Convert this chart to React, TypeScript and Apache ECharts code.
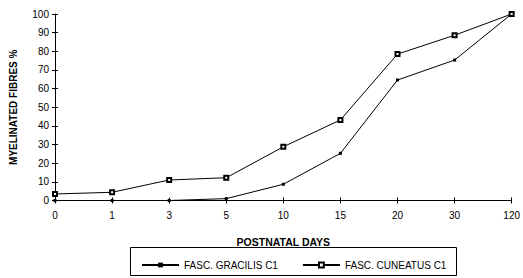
import React, { useEffect, useRef } from "react";
import * as echarts from "echarts";

const days = ["0", "1", "3", "5", "10", "15", "20", "30", "120"];
const gracilis = [0, 0, 0, 1, 8.7, 25.3, 64.6, 75.3, 100];
const cuneatus = [3.5, 4.4, 11, 12.2, 28.8, 43.2, 78.5, 88.6, 100];
const yTicks = [0, 10, 20, 30, 40, 50, 60, 70, 80, 90, 100];

const FONT = "'Liberation Sans', Arial, sans-serif";

export default function App() {
  const ref = useRef<HTMLDivElement>(null);
  useEffect(() => {
    if (!ref.current) return;
    const chart = echarts.init(ref.current, undefined, { renderer: "svg" });
    const axisLine = { show: true, lineStyle: { color: "#000", width: 1 } };
    chart.setOption({
      animation: false,
      backgroundColor: "#fff",
      textStyle: { fontFamily: FONT, color: "#000" },
      grid: { left: 53, right: 8, top: 14, bottom: 77.5, containLabel: false },
      xAxis: [
        {
          type: "category",
          data: days,
          boundaryGap: false,
          axisLine,
          axisTick: { show: true, length: 3, lineStyle: { color: "#000" } },
          axisLabel: { color: "#000", fontSize: 10, margin: 10, fontFamily: FONT },
          splitLine: { show: false },
          name: "POSTNATAL DAYS",
          nameLocation: "middle",
          nameGap: 36,
          nameTextStyle: { color: "#000", fontSize: 10.5, fontWeight: "bold", fontFamily: FONT },
        },
        {
          type: "category",
          data: days,
          boundaryGap: false,
          position: "bottom",
          axisLine: { show: false },
          axisTick: { show: true, inside: true, length: 3, lineStyle: { color: "#000" } },
          axisLabel: { show: false },
          splitLine: { show: false },
        },
      ],
      yAxis: [
        {
          type: "value",
          min: 0,
          max: 100,
          interval: 10,
          axisLine,
          axisTick: { show: true, length: 3, lineStyle: { color: "#000" } },
          axisLabel: {
            color: "#000",
            fontSize: 10,
            margin: 6,
            fontFamily: FONT,
            formatter: (v: number) => (yTicks.includes(v) ? String(v) : ""),
          },
          splitLine: { show: false },
          name: "MYELINATED FIBRES %",
          nameLocation: "middle",
          nameGap: 37,
          nameRotate: 90,
          nameTextStyle: { color: "#000", fontSize: 10, fontWeight: "bold", fontFamily: FONT },
        },
        {
          type: "value",
          min: 0,
          max: 100,
          interval: 10,
          position: "left",
          axisLine: { show: false },
          axisTick: { show: true, inside: true, length: 3, lineStyle: { color: "#000" } },
          axisLabel: { show: false },
          splitLine: { show: false },
        },
      ],
      legend: {
        left: 136,
        top: 255,
        itemWidth: 37,
        itemHeight: 6,
        itemGap: 24,
        textStyle: { color: "#000", fontSize: 10, fontFamily: FONT },
        data: ["FASC. GRACILIS C1", "FASC. CUNEATUS C1"],
      },
      graphic: [
        {
          type: "rect",
          shape: { x: 130.5, y: 247.5, width: 326, height: 28 },
          style: { fill: "none", stroke: "#000", lineWidth: 1 },
          silent: true,
        },
      ],
      series: [
        {
          name: "FASC. GRACILIS C1",
          type: "line",
          data: gracilis,
          symbol: "rect",
          symbolSize: 3,
          showAllSymbol: true,
          lineStyle: { color: "#000", width: 1 },
          itemStyle: { color: "#000" },
        },
        {
          name: "FASC. CUNEATUS C1",
          type: "line",
          data: cuneatus,
          symbol: "emptyRect",
          symbolSize: 4,
          showAllSymbol: true,
          lineStyle: { color: "#000", width: 1 },
          itemStyle: { color: "#000", borderColor: "#000", borderWidth: 0.8 },
        },
      ],
    });
    return () => chart.dispose();
  }, []);
  return (
    <div
      ref={ref}
      style={{ position: "fixed", left: 0, top: 0, width: 523, height: 278, background: "#fff" }}
    />
  );
}
